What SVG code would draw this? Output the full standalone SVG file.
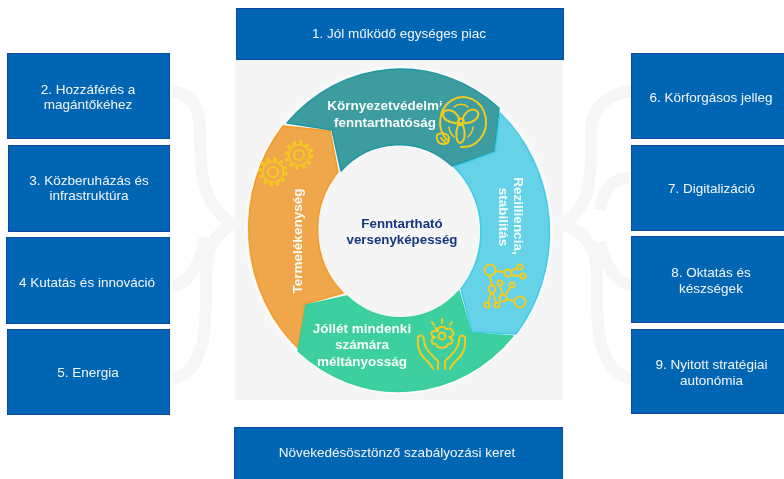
<svg xmlns="http://www.w3.org/2000/svg" width="784" height="479" viewBox="0 0 784 479">
<style>
.box{fill:#0566b4;stroke:#0b47a3;stroke-width:1}
.bt{font:13.5px "Liberation Sans",Arial,sans-serif;fill:#f2f6fb;text-anchor:middle}
.rt{font:bold 13.5px "Liberation Sans",Arial,sans-serif;fill:#f7fbf9;text-anchor:middle}
.ct{font:bold 13.3px "Liberation Sans",Arial,sans-serif;fill:#14397f;text-anchor:middle}
.brace{fill:none;stroke:#f6f6f6;stroke-width:12;stroke-linecap:butt}
.ic{fill:none;stroke:#f3cb1f;stroke-width:2;stroke-linecap:round;stroke-linejoin:round}
.seg{stroke-width:1.5;stroke-linejoin:round}
</style>
<defs><filter id="soft" x="0" y="0" width="100%" height="100%"><feGaussianBlur stdDeviation="0.45"/></filter></defs>
<rect width="784" height="479" fill="#fff"/>
<g filter="url(#soft)">
<rect id="backdrop" x="235" y="60" width="328" height="340" fill="#f5f5f5"/>
<g id="braces">
<path class="brace" d="M173 91C192 94 200 108 200 130C200 165 200 205 233 224C213 235 206 250 206 280C206 320 208 370 173 379"/>
<path class="brace" d="M173 286C188 284 200 265 205 238"/>
<path class="brace" d="M631 91C608 94 591 108 591 130C591 165 595 205 563 224C590 235 597 250 597 280C597 320 595 370 631 379"/>
<path class="brace" d="M629 178C612 178 603 190 600 210"/>
<path class="brace" d="M631 285C618 285 606 268 600 242"/>
</g>
<g id="connectors"/>
<g id="ring">
<ellipse cx="399" cy="230" rx="153" ry="163" fill="#f5f5f5" stroke="#fbfbfb" stroke-width="2"/>
<g id="seg-termelekenyseg">
<path class="seg" fill="#f0a64c" stroke="#f59c24" d="M283 126L330 131L338 172A81 87 0 0 0 343 293L305 304L298 348A152 162 0 0 1 283 126Z"/>
<text class="rt" transform="translate(302 241) rotate(-90)">Termelékenység</text>
<g class="ic">
<circle cx="299" cy="155" r="5"/><circle cx="299" cy="155" r="10.500" stroke-width="1.600"/><circle cx="299" cy="155" r="13" stroke-width="3" stroke-dasharray="3.400 3.400" stroke-linecap="butt"/>
<circle cx="273" cy="172" r="5"/><circle cx="273" cy="172" r="10.500" stroke-width="1.600"/><circle cx="273" cy="172" r="13" stroke-width="3" stroke-dasharray="3.400 3.400" stroke-linecap="butt"/>
</g>
</g>
<g id="seg-kornyezet">
<path class="seg" fill="#3c9ca0" stroke="#1f98a2" d="M287 123A152 162 0 0 1 499 108L495 152L452 166A81 87 0 0 0 341 171L332 130Z"/>
<text class="rt" x="385" y="110">Környezetvédelmi</text>
<text class="rt" x="385" y="127">fenntarthatóság</text>
<circle cx="461" cy="122" r="26" fill="#3c9ca0"/>
<g class="ic">
<path d="M447 140A23 25 0 1 1 461 147"/>
<path d="M459 118C455 110 447 108 444 112C440 118 450 124 458 123Z"/>
<path d="M463 118C466 110 474 107 478 112C480 118 472 124 464 123Z"/>
<path d="M458 125C455 133 456 142 460 143C465 142 466 133 463 125Z"/>
<circle cx="461" cy="121" r="2.500"/>
<path d="M454 107A10 10 0 0 1 468 107M449 127A15 15 0 0 0 454 137M473 127A15 15 0 0 1 468 137" stroke-width="1.500"/>
<path d="M443 144C438 144 436 139 437 135C441 132 449 133 449 139C449 142 447 144 443 144ZM441 138L445 142"/>
</g>
</g>
<g id="seg-rezilliencia">
<path class="seg" fill="#66d2e8" stroke="#3fcbe8" d="M500 113A152 162 0 0 1 516 334L472 332L461 289A81 87 0 0 0 454 167L495 152Z"/>
<text class="rt" transform="translate(514 216) rotate(90)">Rezilliencia,</text>
<text class="rt" transform="translate(499 217) rotate(90)">stabilitás</text>
<g class="ic">
<path d="M495 271L504 272M511 271L517 268M511 275L520 276M490 276L492 285M491 293L488 302M493 293L496 302M500 286L503 295M505 295L510 288M506 299L515 301"/>
<circle cx="490" cy="270" r="5.500"/><circle cx="508" cy="273" r="3.500"/><circle cx="520" cy="267" r="2.500"/><circle cx="523" cy="276" r="2.500"/><circle cx="492" cy="289" r="3.500"/><circle cx="487" cy="305" r="2.500"/><circle cx="497" cy="305" r="2.500"/><circle cx="500" cy="283" r="2.500"/><circle cx="503" cy="298" r="3.500"/><circle cx="512" cy="285" r="2.500"/><circle cx="520" cy="302" r="5.500"/>
</g>
</g>
<g id="seg-jollet">
<path class="seg" fill="#3ccf9f" stroke="#34cf9e" d="M347 296A81 87 0 0 0 459 291L471 333L513 336A152 162 0 0 1 298 351L306 305Z"/>
<text class="rt" x="362" y="333">Jóllét mindenki</text>
<text class="rt" x="362" y="349">számára</text>
<text class="rt" x="362" y="366">méltányosság</text>
<g class="ic" stroke-width="2.300">
<path d="M418 337C417 346 419 353 424 358C428 362 431 364 433 369M418 337C421 334 424 336 424 340C424 346 427 351 438 361C438 364 438 366 438 369"/>
<path d="M465 337C466 346 464 353 459 358C455 362 452 364 450 369M465 337C462 334 459 336 459 340C459 346 456 351 445 361C445 364 445 366 445 369"/>
<circle cx="442" cy="336" r="3.500"/>
<path d="M438 331C433 325 436 329 438 329C439 326 445 326 446 329C449 329 451 327 452 331C455 333 453 337 449 337C454 339 453 345 448 344C447 349 437 349 436 344C431 345 430 339 435 337C431 337 430 332 434 331Z"/>
<path d="M432 322L434 325M442 319L442 323M452 322L450 325"/>
</g>
</g>
<g id="center-label">
<text class="ct" x="402" y="228">Fenntartható</text>
<text class="ct" x="402" y="244">versenyképesség</text>
</g>
</g>
<g id="n1"><rect class="box" x="236.500" y="8.500" width="327" height="51"/><text class="bt" x="399" y="38">1. Jól működő egységes piac</text></g>
<g id="n2"><rect class="box" x="7.500" y="53.500" width="162" height="85"/><text class="bt" x="88" y="94">2. Hozzáférés a</text><text class="bt" x="88" y="109">magántőkéhez</text></g>
<g id="n3"><rect class="box" x="8.500" y="145.500" width="161" height="86"/><text class="bt" x="89" y="185">3. Közberuházás és</text><text class="bt" x="89" y="200">infrastruktúra</text></g>
<g id="n4"><rect class="box" x="6.500" y="237.500" width="163" height="86"/><text class="bt" x="87" y="287">4 Kutatás és innováció</text></g>
<g id="n5"><rect class="box" x="7.500" y="329.500" width="162" height="85"/><text class="bt" x="88" y="377">5. Energia</text></g>
<g id="n6"><rect class="box" x="631.500" y="53.500" width="153" height="85"/><text class="bt" x="711" y="102">6. Körforgásos jelleg</text></g>
<g id="n7"><rect class="box" x="631.500" y="145.500" width="153" height="85"/><text class="bt" x="711.500" y="193">7. Digitalizáció</text></g>
<g id="n8"><rect class="box" x="631.500" y="236.500" width="153" height="86"/><text class="bt" x="711" y="277">8. Oktatás és</text><text class="bt" x="711" y="293">készségek</text></g>
<g id="n9"><rect class="box" x="631.500" y="329.500" width="153" height="84"/><text class="bt" x="711.500" y="369">9. Nyitott stratégiai</text><text class="bt" x="711.500" y="385">autonómia</text></g>
<g id="n10"><rect class="box" x="234.500" y="427.500" width="328" height="52"/><text class="bt" x="397" y="457">Növekedésösztönző szabályozási keret</text></g>
</g>
</svg>
